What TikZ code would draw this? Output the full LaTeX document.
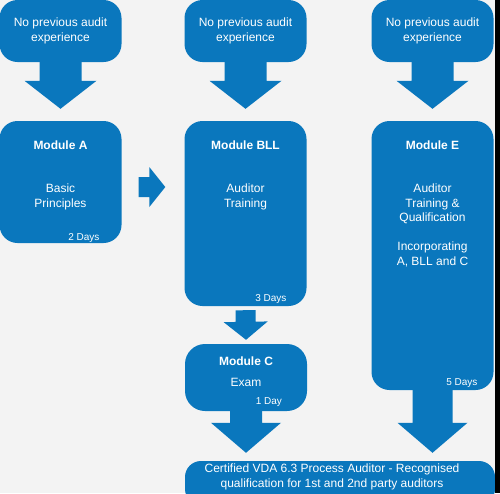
\documentclass[tikz,border=0pt]{standalone}
\usepackage{fontspec}
\setmainfont{Liberation Sans}
\usetikzlibrary{calc}
\usetikzlibrary{positioning}
\definecolor{boxblue}{HTML}{0A77BD}
\definecolor{backgr}{HTML}{F3F3F3}
\tikzset{panel/.style = {fill=boxblue, rounded corners=18pt, inner sep=0pt,
                         text=white, align=center,
                         font=\fontsize{12}{14.5}\selectfont,
                         minimum width=122pt}}
\tikzset{title/.style = {text=white, inner sep=0pt,
                         font=\bfseries\fontsize{12}{14.5}\selectfont}}
\tikzset{body/.style = {text=white, align=center, inner sep=0pt,
                        font=\fontsize{12}{14.5}\selectfont}}
\tikzset{days/.style = {text=white, anchor=east, inner sep=0pt,
                        font=\fontsize{10}{12}\selectfont}}
% block arrow: tail, tip, stem half width, head half width, head length
\newcommand{\blockarrow}[5]{%
  \coordinate (neck) at ($(#2)!#5!(#1)$);
  \fill[boxblue] ($(#1)!#3!90:(#2)$) -- ($(neck)!#3!-90:(#1)$)
    -- ($(neck)!#4!-90:(#1)$) -- (#2) -- ($(neck)!#4!90:(#1)$)
    -- ($(neck)!#3!90:(#1)$) -- ($(#1)!#3!-90:(#2)$) -- cycle;}

\begin{document}
\begin{tikzpicture}[x=1pt,y=-1pt]
		\useasboundingbox (0,0) rectangle (500,493);
		\fill[backgr] (0,0) rectangle (500,493);
		\clip (0,0) rectangle (500,493);
		% top row
		\node[panel, minimum height=62pt] (topA) at (60.5,31) {No previous audit\\experience};
		\node[panel, minimum height=62pt] (topB) at (245.5,31) {No previous audit\\experience};
		\node[panel, minimum height=62pt] (topE) at (432.5,31) {No previous audit\\experience};
		% modules
		\node[panel, minimum height=122pt] (modA) at (60.5,182) {};
		\node[panel, minimum height=185pt] (modB) at (245.5,213.5) {};
		\node[panel, minimum height=67pt, rounded corners=20pt] (modC) at (246,377.5) {};
		\node[panel, minimum height=269pt] (modE) at (432.5,255.5) {};
		\node[panel, minimum width=310pt, minimum height=44pt, rounded corners=16pt] (cert) at (340,483) {};
		% texts
		\node[title] at ([yshift=-24pt]modA.north) {Module A};
		\node[body] at ([yshift=-76pt]modA.north) {Basic\\Principles};
		\node[days] at ([xshift=-22pt,yshift=5pt]modA.south east) {2 Days};
		\node[title] at ([yshift=-24pt]modB.north) {Module BLL};
		\node[body] at ([yshift=-76pt]modB.north) {Auditor\\Training};
		\node[days] at ([xshift=-20pt,yshift=7pt]modB.south east) {3 Days};
		\node[title] at ([yshift=-17pt]modC.north) {Module C};
		\node[body] at ([yshift=-39pt]modC.north) {Exam};
		\node[days] at ([xshift=-25pt,yshift=9pt]modC.south east) {1 Day};
		\node[title] at ([yshift=-24pt]modE.north) {Module E};
		\node[body] at ([yshift=-83pt]modE.north) {Auditor\\Training \&\\Qualification};
		\node[body] at ([yshift=-133.5pt]modE.north) {Incorporating\\A, BLL and C};
		\node[days] at ([xshift=-16pt,yshift=7pt]modE.south east) {5 Days};
		\node[body] at ([xshift=-8pt,yshift=-16pt]cert.north) {Certified VDA 6.3 Process Auditor - Recognised\\qualification for 1st and 2nd party auditors};
		% arrows
		\coordinate (tipA) at ([yshift=12pt]modA.north);
		\coordinate (tipB) at ([yshift=12pt]modB.north);
		\coordinate (tipE) at ([yshift=12pt]modE.north);
		\blockarrow{topA.south}{tipA}{21pt}{36pt}{28pt}
		\blockarrow{topB.south}{tipB}{21pt}{36pt}{28pt}
		\blockarrow{topE.south}{tipE}{21pt}{36pt}{28pt}
		\coordinate (tailAB) at ([xshift=17pt,yshift=-5pt]modA.east);
		\coordinate (tipAB) at ($(tailAB -| modB.west)+(-19,0)$);
		\blockarrow{tailAB}{tipAB}{10pt}{20pt}{16pt}
		\coordinate (tailBC) at ([yshift=-4pt]modB.south);
		\coordinate (tipBC) at ([yshift=4pt]modC.north);
		\blockarrow{tailBC}{tipBC}{10pt}{22pt}{18pt}
		\coordinate (tipC) at ($(modC.south |- cert.north)+(0,-8)$);
		\blockarrow{modC.south}{tipC}{16pt}{35pt}{30pt}
		\coordinate (tipCert) at ($(modE.south |- cert.north)+(0,-8)$);
		\blockarrow{modE.south}{tipCert}{20pt}{35pt}{30pt}
		% right edge
		\fill[black] (495,0) rectangle (500,493);
	\end{tikzpicture}
\end{document}
